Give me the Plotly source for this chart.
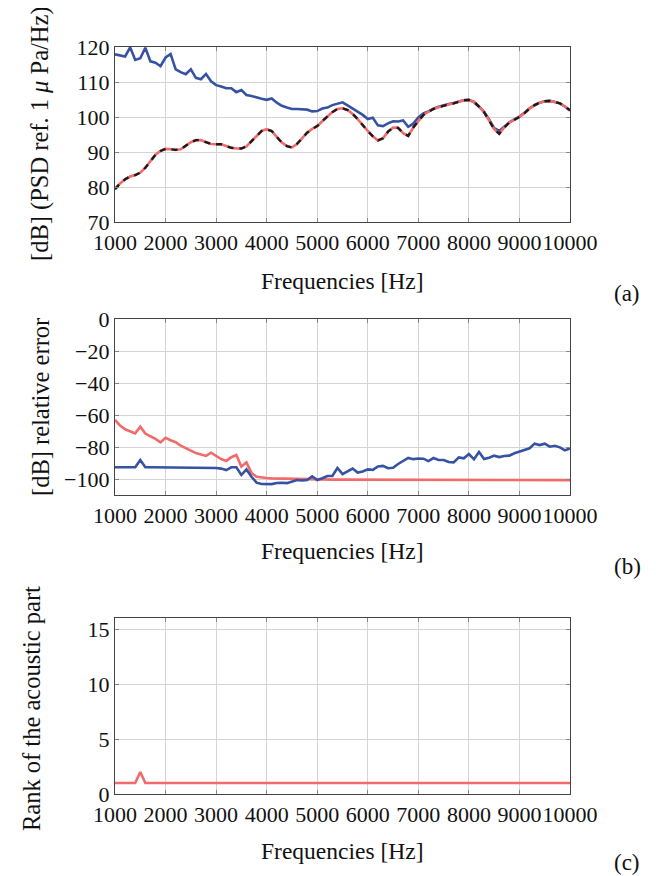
import plotly.graph_objects as go

freq = list(range(1000, 10001, 100))

psd_full = [117.9, 117.6, 117.3, 119.9, 116.3, 116.8, 119.8, 115.9, 115.5, 114.5,
            117.0, 118.0, 113.6, 112.8, 112.2, 113.6, 111.2, 110.8, 112.3, 110.2,
            109.1, 108.7, 108.2, 108.2, 107.1, 107.7, 106.3, 106.0, 105.5, 105.2,
            104.9, 105.3, 104.1, 103.2, 102.7, 102.3, 102.3, 102.2, 102.1, 101.6,
            101.7, 102.4, 102.7, 103.4, 103.9, 104.2, 103.3, 102.4, 101.4, 100.6,
            99.4, 99.8, 97.6, 97.4, 98.2, 98.8, 98.7, 99.0, 97.2, 98.1,
            99.9, 101.0, 101.6, 102.4, 102.9, 103.4, 103.7, 104.0, 104.4, 104.8,
            104.9, 104.3, 103.0, 101.5, 99.3, 96.8, 96.0, 97.2, 98.5, 99.3,
            100.1, 101.2, 102.5, 103.4, 104.1, 104.5, 104.6, 104.3, 103.9, 103.0,
            101.9]

psd_acoustic = [79.4, 81.0, 82.2, 83.0, 83.4, 84.1, 85.5, 87.4, 89.2, 90.3,
                90.9, 90.8, 90.6, 90.8, 91.7, 92.8, 93.4, 93.4, 92.8, 92.3,
                92.2, 92.2, 91.7, 91.2, 91.0, 91.0, 91.6, 93.0, 94.6, 96.0,
                96.5, 96.0, 94.3, 92.7, 91.7, 91.3, 92.3, 93.8, 95.5, 96.6,
                97.4, 98.8, 100.2, 101.4, 102.3, 102.5, 102.0, 100.9, 99.4, 97.6,
                96.0, 94.5, 93.3, 93.9, 95.8, 97.0, 96.9, 95.4, 94.6, 97.0,
                98.9, 100.6, 101.5, 102.3, 102.8, 103.3, 103.6, 103.9, 104.4, 104.8,
                104.9, 104.3, 103.0, 101.4, 99.0, 96.5, 95.2, 97.0, 98.4, 99.2,
                100.0, 101.1, 102.4, 103.4, 104.1, 104.5, 104.6, 104.3, 103.9, 103.0,
                101.9]

psd_reference = list(psd_acoustic)

err_blue = [-92.7, -92.7, -92.7, -92.7, -92.7, -88.1, -92.7, -92.7, -92.7, -92.7,
            -92.7, -92.7, -92.7, -92.8, -92.8, -92.8, -92.8, -92.9, -92.9, -92.9,
            -93.1, -93.5, -94.4, -92.7, -92.7, -97.5, -94.0, -98.6, -102.3, -103.1,
            -103.3, -103.2, -102.5, -102.3, -102.6, -101.4, -100.6, -100.9, -100.6, -98.3,
            -100.6, -99.5, -98.1, -98.1, -93.1, -96.9, -95.4, -93.5, -96.0, -95.3,
            -94.0, -94.3, -92.2, -91.8, -93.3, -93.0, -90.6, -88.5, -86.8, -87.6,
            -87.2, -87.3, -88.8, -86.9, -88.1, -88.1, -89.4, -89.6, -86.5, -87.1,
            -84.4, -87.7, -83.1, -87.5, -86.7, -85.4, -86.3, -85.6, -85.4, -83.9,
            -82.9, -81.5, -80.8, -77.9, -78.8, -77.9, -79.8, -79.2, -80.2, -82.1,
            -80.8]

err_red = [-63.1, -66.6, -68.9, -70.0, -71.5, -67.3, -71.6, -73.3, -74.9, -77.1,
           -74.2, -75.8, -77.0, -79.2, -81.0, -82.3, -83.8, -84.6, -85.6, -83.6,
           -85.8, -87.5, -88.7, -86.4, -85.0, -92.3, -89.6, -96.2, -98.6, -99.2,
           -99.4, -99.6, -99.7, -99.8, -99.9, -100.0, -100.0, -100.1, -100.1, -100.2,
           -100.3, -100.3, -100.3, -100.4, -100.4, -100.4, -100.4, -100.5, -100.5, -100.5,
           -100.5, -100.5, -100.5, -100.5, -100.6, -100.6, -100.6, -100.6, -100.6, -100.6,
           -100.6, -100.6, -100.6, -100.6, -100.6, -100.6, -100.6, -100.6, -100.6, -100.6,
           -100.6, -100.6, -100.7, -100.7, -100.7, -100.7, -100.7, -100.7, -100.7, -100.7,
           -100.7, -100.7, -100.7, -100.7, -100.7, -100.7, -100.7, -100.7, -100.7, -100.7,
           -100.7]

rank = [1] * 91
rank[5] = 2

x_ticks = list(range(1000, 10001, 1000))
x_ticktext = [str(v) for v in x_ticks]
y1_ticks = [70, 80, 90, 100, 110, 120]
y2_ticks = [0, -20, -40, -60, -80, -100]
y2_ticktext = ["0", "\u221220", "\u221240", "\u221260", "\u221280", "\u2212100"]
y3_ticks = [0, 5, 10, 15]

BLUE = "#3653a3"
RED = "#f26a6a"
FONT = "Liberation Serif"
FS = 22
OFF = 8  # page body margin
W, H = 656 - OFF, 876 - OFF


def px(x):
    return (x - OFF) / W


def py(y):
    return 1 - (y - OFF) / H


fig = go.Figure()
fig.add_trace(go.Scatter(x=freq, y=psd_full, mode="lines", line=dict(color=BLUE, width=2.6),
                         xaxis="x", yaxis="y", showlegend=False))
fig.add_trace(go.Scatter(x=freq, y=psd_acoustic, mode="lines", line=dict(color=RED, width=2.6),
                         xaxis="x", yaxis="y", showlegend=False))
fig.add_trace(go.Scatter(x=freq, y=psd_reference, mode="lines",
                         line=dict(color="#1a1a1a", width=2.4, dash="6px,6px"),
                         xaxis="x", yaxis="y", showlegend=False))
fig.add_trace(go.Scatter(x=freq, y=err_red, mode="lines", line=dict(color=RED, width=2.6),
                         xaxis="x2", yaxis="y2", showlegend=False))
fig.add_trace(go.Scatter(x=freq, y=err_blue, mode="lines", line=dict(color=BLUE, width=2.6),
                         xaxis="x2", yaxis="y2", showlegend=False))
fig.add_trace(go.Scatter(x=freq, y=rank, mode="lines", line=dict(color=RED, width=2.6),
                         xaxis="x3", yaxis="y3", showlegend=False))

xdom = [px(115), px(570)]
doms = [(47, 222), (319, 495), (618, 794)]
ydoms = [[py(b), py(t)] for t, b in doms]

common = dict(showgrid=True, gridcolor="#d4d4d4", gridwidth=1, zeroline=False,
              showline=True, linecolor="#444444", linewidth=1.2, mirror="ticks",
              ticks="inside", ticklen=4, tickcolor="#888888", automargin=False,
              tickangle=0, tickfont=dict(family=FONT, size=FS, color="#111111"))

layout = dict(width=W, height=H, margin=dict(l=0, r=0, t=0, b=0),
              paper_bgcolor="white", plot_bgcolor="white",
              font=dict(family=FONT, color="#111111"))

names = ["", "2", "3"]
for i, n in enumerate(names):
    ax = dict(common)
    ax.update(domain=xdom, range=[1000, 10000], tickvals=x_ticks, ticktext=x_ticktext,
              anchor="y" + n)
    layout["xaxis" + n] = ax
yrs = [[70, 120], [-110, 0], [0, 16]]
yts = [(y1_ticks, [str(v) for v in y1_ticks]), (y2_ticks, y2_ticktext),
       (y3_ticks, [str(v) for v in y3_ticks])]
for i, n in enumerate(names):
    ay = dict(common)
    ay.update(domain=ydoms[i], range=yrs[i], tickvals=yts[i][0], ticktext=yts[i][1],
              anchor="x" + n)
    layout["yaxis" + n] = ay

fig.update_layout(**layout)

ytitles = ["[dB] (PSD ref. 1 <i>μ</i> Pa/Hz)", "[dB] relative error", "Rank of the acoustic part"]
ytitle_x = [40, 40, 31]
ytitle_y = [134, 407, 709]
ytitle_fs = [24.5, 24.5, 24.5]
xtitle_y = [281, 551, 851]
labels = ["(a)", "(b)", "(c)"]
label_y = [294, 566, 862]
for i in range(3):
    fig.add_annotation(text=ytitles[i], x=px(ytitle_x[i]), y=py(ytitle_y[i]), xref="paper",
                       yref="paper", textangle=-90, showarrow=False, xanchor="center",
                       yanchor="middle", font=dict(family=FONT, size=ytitle_fs[i], color="#111111"))
    fig.add_annotation(text="Frequencies [Hz]", x=px(342), y=py(xtitle_y[i]), xref="paper",
                       yref="paper", showarrow=False, xanchor="center", yanchor="middle",
                       font=dict(family=FONT, size=23.5, color="#111111"))
    fig.add_annotation(text=labels[i], x=px(627), y=py(label_y[i]), xref="paper",
                       yref="paper", showarrow=False, xanchor="center", yanchor="middle",
                       font=dict(family=FONT, size=23, color="#111111"))

fig.write_html("out.html")
